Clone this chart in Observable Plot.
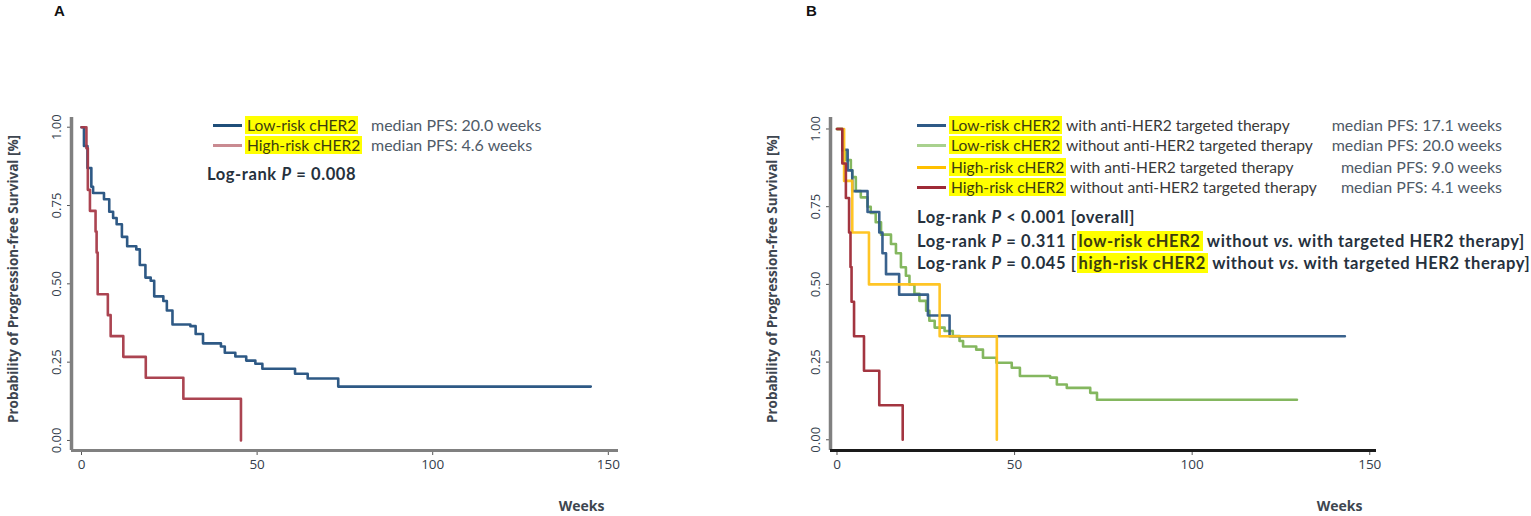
<!DOCTYPE html>
<html>
<head>
<meta charset="utf-8">
<script src="https://cdn.jsdelivr.net/npm/d3@7"></script>
<script src="https://cdn.jsdelivr.net/npm/@observablehq/plot@0.6"></script>
<style>
  html, body { margin: 0; padding: 0; background: #fff; }
  #wrap { position: relative; width: 1531px; height: 516px; overflow: hidden; font-family: Lato, "Open Sans", sans-serif; }
  .panel { position: absolute; top: 0; }
  .lbl { position: absolute; height: 20px; line-height: 20px; white-space: nowrap; font-size: 15.6px; color: #3a3a3a; }
  .hl { background: #ffff00; color: #3d3d10; padding: 0 2px; }
  .med { color: #4f5b68; font-size: 16px; }
  .sw { position: absolute; height: 3px; }
  .bold { font-weight: bold; color: #26313d; font-size: 16.5px; letter-spacing: 0.6px; }
  .letter { position: absolute; top: 2px; font: bold 15px "Liberation Sans", Arial, sans-serif; color: #111; }
</style>
</head>
<body>
<div id="wrap">
  <div class="letter" style="left:54px;">A</div>
  <div class="letter" style="left:806px;">B</div>
  <div id="pa" class="panel" style="left:0px;"></div>
  <div id="pb" class="panel" style="left:750px;"></div>
  <div id="legA"></div>
  <div id="legB"></div>
</div>
<script>
// ---------- Data ----------
const xTicks = [0, 50, 100, 150];
const yTicks = [0, 0.25, 0.5, 0.75, 1];
const yTitle = "Probability of Progression-free Survival [%]";
const xTitle = "Weeks";

// Panel A
const aLowWeeks = [0, 0.7, 1.7, 2.8, 3.3, 6.4, 7.9, 9.0, 10.0, 11.5, 13.0, 15.6, 16.6, 18.2, 19.7, 20.7, 23.3, 24.3, 25.9, 31.0, 32.5, 34.6, 39.7, 40.8, 43.8, 46.9, 49.5, 51.5, 60.8, 64.4, 73.1, 145];
const aLowSurv  = [1, 0.94, 0.87, 0.81, 0.79, 0.77, 0.73, 0.71, 0.69, 0.65, 0.62, 0.61, 0.56, 0.52, 0.51, 0.46, 0.445, 0.415, 0.37, 0.365, 0.34, 0.31, 0.30, 0.28, 0.268, 0.255, 0.245, 0.229, 0.213, 0.198, 0.172, 0.172];
const aHighWeeks = [0, 1.4, 1.8, 2.4, 4.0, 4.3, 4.6, 7.5, 8.3, 11.9, 18.3, 29.0, 45.4];
const aHighSurv  = [1, 0.933, 0.80, 0.733, 0.667, 0.60, 0.467, 0.40, 0.333, 0.267, 0.20, 0.133, 0];

// Panel B
const bLowWithWeeks = [0, 1.5, 3.0, 4.3, 8.6, 11.9, 12.8, 13.8, 17.5, 25.6, 31.7, 143];
const bLowWithSurv  = [1, 0.933, 0.867, 0.80, 0.733, 0.667, 0.60, 0.533, 0.467, 0.40, 0.333, 0.333];
const bLowWithoutWeeks = [0, 1.5, 2.5, 3.9, 4.3, 5.3, 6.7, 8.6, 9.5, 10.9, 12.4, 15.2, 16.6, 18.0, 19.4, 20.4, 21.8, 23.2, 25.1, 26.0, 27.5, 30.3, 32.6, 34.5, 35.5, 39.2, 41.1, 44.9, 49.2, 51.5, 60.0, 61.9, 64.7, 71.3, 73.2, 129.5];
const bLowWithoutSurv  = [1, 0.93, 0.90, 0.867, 0.845, 0.80, 0.78, 0.75, 0.73, 0.70, 0.66, 0.63, 0.60, 0.555, 0.528, 0.50, 0.47, 0.447, 0.415, 0.383, 0.361, 0.35, 0.334, 0.318, 0.30, 0.29, 0.264, 0.248, 0.232, 0.205, 0.20, 0.178, 0.167, 0.151, 0.129, 0.129];
const bHighWithWeeks = [0, 2.0, 4.3, 9.0, 28.9, 45.0];
const bHighWithSurv  = [1, 0.833, 0.667, 0.5, 0.333, 0];
const bHighWithoutWeeks = [0, 1.5, 2.5, 3.4, 3.8, 4.1, 4.8, 7.6, 11.9, 18.5];
const bHighWithoutSurv  = [1, 0.889, 0.778, 0.667, 0.556, 0.444, 0.333, 0.222, 0.111, 0];

// Legend texts
const legA = [
  {name: "Low-risk cHER2", rest: "", median: "median PFS: 20.0 weeks", color: "#1f4e79"},
  {name: "High-risk cHER2", rest: "", median: "median PFS: 4.6 weeks", color: "#c98a91"}
];
const logRankA = ["Log-rank <i>P</i> = 0.008"];
const legB = [
  {name: "Low-risk cHER2", rest: " with anti-HER2 targeted therapy", median: "median PFS: 17.1 weeks", color: "#2e5a87"},
  {name: "Low-risk cHER2", rest: " without anti-HER2 targeted therapy", median: "median PFS: 20.0 weeks", color: "#a9d18e"},
  {name: "High-risk cHER2", rest: " with anti-HER2 targeted therapy", median: "median PFS: 9.0 weeks", color: "#ffc000"},
  {name: "High-risk cHER2", rest: " without anti-HER2 targeted therapy", median: "median PFS: 4.1 weeks", color: "#9e2a36"}
];
const logRankB = [
  "Log-rank <i>P</i> &lt; 0.001 [overall]",
  "Log-rank <i>P</i> = 0.311 [<span class=\"hl\">low-risk cHER2</span> without <i>vs.</i> with targeted HER2 therapy]",
  "Log-rank <i>P</i> = 0.045 [<span class=\"hl\">high-risk cHER2</span> without <i>vs.</i> with targeted HER2 therapy]"
];

const toRows = (w, s) => w.map((d, i) => ({week: d, surv: s[i]}));

function panel({width, marginLeft, marginRight, xDomain, yDomain, series, xAxisColor}) {
  return Plot.plot({
    width, height: 516,
    marginLeft, marginRight, marginTop: 117, marginBottom: 66,
    style: {fontFamily: "'Open Sans', Lato, sans-serif", fontSize: "13px", color: "#34404c", overflow: "visible"},
    x: {domain: xDomain},
    y: {domain: yDomain},
    marks: [
      Plot.axisY({ticks: yTicks, tickFormat: d3.format(".2f"), tickRotate: -90, tickSize: 4, tickPadding: 7, label: null, fontSize: 13, stroke: "#555"}),
      Plot.axisX({ticks: xTicks, tickSize: 5, tickPadding: 4, label: null, fontSize: 13.5, stroke: "#555"}),
      Plot.ruleX([xDomain[0]], {stroke: "#808080", strokeWidth: 3.5}),
      Plot.ruleY([yDomain[0]], {stroke: xAxisColor, strokeWidth: 3}),
      ...series.map(s => Plot.line(toRows(s.w, s.s), {x: "week", y: "surv", curve: "step-after", stroke: s.color, strokeWidth: 2.6, strokeOpacity: 0.95})),
      Plot.text([yTitle], {frameAnchor: "left", textAnchor: "middle", dx: -58, dy: -5, rotate: -90, fontWeight: "bold", fontSize: 13.5, fontFamily: "'Open Sans', sans-serif", fill: "#3e4650"}),
      Plot.text([xTitle], {frameAnchor: "bottom-right", textAnchor: "middle", dx: -37, dy: 60, fontWeight: "bold", fontSize: 14, fontFamily: "'Open Sans', sans-serif", fill: "#3e4650"})
    ]
  });
}

document.getElementById("pa").append(panel({
  width: 750, marginLeft: 71, marginRight: 132,
  xDomain: [-2.85, 152.9], yDomain: [-0.032, 1.031],
  xAxisColor: "#808080",
  series: [
    {w: aLowWeeks, s: aLowSurv, color: "#23507e"},
    {w: aHighWeeks, s: aHighSurv, color: "#a63a48"}
  ]
}));

document.getElementById("pb").append(panel({
  width: 781, marginLeft: 80, marginRight: 155,
  xDomain: [-1.83, 151.9], yDomain: [-0.0345, 1.037],
  xAxisColor: "#1a1a1a",
  series: [
    {w: bLowWithoutWeeks, s: bLowWithoutSurv, color: "#7db356"},
    {w: bLowWithWeeks, s: bLowWithSurv, color: "#2e5a87"},
    {w: bHighWithWeeks, s: bHighWithSurv, color: "#ffc21a"},
    {w: bHighWithoutWeeks, s: bHighWithoutSurv, color: "#9e2a36"}
  ]
}));

// ---------- Legends (HTML overlay) ----------
function legend(el, rows, {swLeft, textLeft, rowTops, medLeft, medRight, logs, logLeft, logTops}) {
  const host = document.getElementById(el);
  rows.forEach((r, i) => {
    const sw = document.createElement("div");
    sw.className = "sw";
    sw.style.cssText = `left:${swLeft}px; top:${rowTops[i] + 9}px; width:29px; background:${r.color};`;
    host.append(sw);
    const t = document.createElement("div");
    t.className = "lbl";
    t.style.left = textLeft + "px";
    t.style.top = rowTops[i] + "px";
    t.innerHTML = `<span class="hl">${r.name}</span>${r.rest}`;
    host.append(t);
    const m = document.createElement("div");
    m.className = "lbl med";
    m.style.top = rowTops[i] + "px";
    if (medLeft != null) m.style.left = medLeft + "px"; else m.style.right = medRight + "px";
    m.textContent = r.median;
    host.append(m);
  });
  logs.forEach((l, i) => {
    const d = document.createElement("div");
    d.className = "lbl bold";
    d.style.left = logLeft + "px";
    d.style.top = logTops[i] + "px";
    d.innerHTML = l;
    host.append(d);
  });
}
legend("legA", legA, {swLeft: 213, textLeft: 245, rowTops: [115, 135], medLeft: 371, logs: logRankA, logLeft: 207, logTops: [164]});
legend("legB", legB, {swLeft: 917, textLeft: 949, rowTops: [115, 135, 157, 177], medRight: 29, logs: logRankB, logLeft: 917, logTops: [207, 231, 253]});
</script>
</body>
</html>
